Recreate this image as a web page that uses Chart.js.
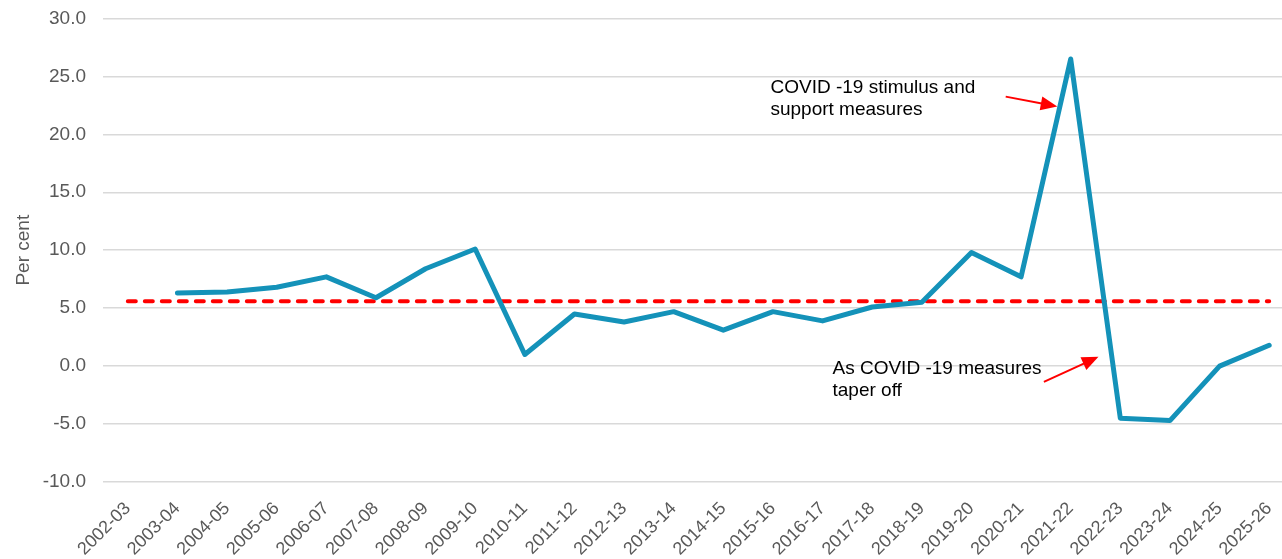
<!DOCTYPE html>
<html lang="en">
<head>
    <meta charset="UTF-8">
    <title>Annual growth, per cent</title>
    <style>
        body {
            margin: 0;
            padding: 0;
            background-color: #fff;
            overflow: hidden;
        }
        .chart-box {
            position: relative;
            width: 1294px;
            height: 569px;
            margin-top: -10px;
        }
    </style>
</head>
<body>

    <div class="chart-box">
        <canvas id="growthChart"></canvas>
    </div>

    <script src="https://cdn.jsdelivr.net/npm/chart.js"></script>

    <script>
        // Financial years on the x axis
        const years = [
            '2002-03', '2003-04', '2004-05', '2005-06', '2006-07', '2007-08',
            '2008-09', '2009-10', '2010-11', '2011-12', '2012-13', '2013-14',
            '2014-15', '2015-16', '2016-17', '2017-18', '2018-19', '2019-20',
            '2020-21', '2021-22', '2022-23', '2023-24', '2024-25', '2025-26'
        ];

        // Annual change, per cent (no figure for 2002-03)
        const growth = [
            null, 6.3, 6.4, 6.8, 7.7, 5.9,
            8.4, 10.1, 1.0, 4.5, 3.8, 4.7,
            3.1, 4.7, 3.9, 5.1, 5.5, 9.8,
            7.7, 26.5, -4.5, -4.7, 0.0, 1.8
        ];

        // Long-run average level, drawn as a dashed reference line
        const average = [
            5.6, 5.6, 5.6, 5.6, 5.6, 5.6,
            5.6, 5.6, 5.6, 5.6, 5.6, 5.6,
            5.6, 5.6, 5.6, 5.6, 5.6, 5.6,
            5.6, 5.6, 5.6, 5.6, 5.6, 5.6
        ];

        // Call-out notes: text lines, text anchor and arrow (tail -> tip) in data units
        const notes = [
            {
                lines: ['COVID -19 stimulus and', 'support measures'],
                at: [12.95, 24.0],
                tail: [17.69, 23.25],
                tip: [18.73, 22.4]
            },
            {
                lines: ['As COVID -19 measures', 'taper off'],
                at: [14.2, -0.25],
                tail: [18.46, -1.36],
                tip: [19.56, 0.8]
            }
        ];

        const FONT = "'Liberation Sans', Arial, sans-serif";

        const notesPlugin = {
            id: 'notes',
            afterDatasetsDraw(chart) {
                const { ctx, scales: { x, y } } = chart;
                ctx.save();
                notes.forEach(n => {
                    ctx.fillStyle = '#000';
                    ctx.font = '19px ' + FONT;
                    ctx.textAlign = 'left';
                    ctx.textBaseline = 'middle';
                    const tx = x.getPixelForValue(n.at[0]);
                    const ty = y.getPixelForValue(n.at[1]);
                    n.lines.forEach((t, i) => ctx.fillText(t, tx, ty + i * 22));

                    const x0 = x.getPixelForValue(n.tail[0]);
                    const y0 = y.getPixelForValue(n.tail[1]);
                    const x1 = x.getPixelForValue(n.tip[0]);
                    const y1 = y.getPixelForValue(n.tip[1]);
                    const ang = Math.atan2(y1 - y0, x1 - x0);
                    const head = 18;
                    ctx.strokeStyle = '#ff0000';
                    ctx.fillStyle = '#ff0000';
                    ctx.lineWidth = 2;
                    ctx.beginPath();
                    ctx.moveTo(x0, y0);
                    ctx.lineTo(x1 - head * 0.8 * Math.cos(ang), y1 - head * 0.8 * Math.sin(ang));
                    ctx.stroke();
                    ctx.beginPath();
                    ctx.moveTo(x1, y1);
                    ctx.lineTo(x1 - head * Math.cos(ang - 0.4), y1 - head * Math.sin(ang - 0.4));
                    ctx.lineTo(x1 - head * Math.cos(ang + 0.4), y1 - head * Math.sin(ang + 0.4));
                    ctx.closePath();
                    ctx.fill();
                });
                ctx.restore();
            }
        };

        const growthChart = new Chart(document.getElementById('growthChart'), {
            type: 'line',
            data: {
                labels: years,
                datasets: [
                    {
                        label: 'Annual change',
                        data: growth,
                        borderColor: '#1492b9',
                        borderWidth: 5,
                        pointRadius: 0,
                        tension: 0,
                        borderJoinStyle: 'round',
                        borderCapStyle: 'round',
                        fill: false,
                        order: 1
                    },
                    {
                        label: 'Average',
                        data: average,
                        borderColor: '#ff0000',
                        borderWidth: 4,
                        borderDash: [8, 9],
                        borderCapStyle: 'round',
                        pointRadius: 0,
                        fill: false,
                        order: 2
                    }
                ]
            },
            options: {
                responsive: true,
                maintainAspectRatio: false,
                animation: false,
                layout: { padding: { top: 1, left: 0, right: 0, bottom: 0 } },
                scales: {
                    x: {
                        offset: true,
                        grid: { display: false },
                        border: { display: false },
                        ticks: {
                            color: '#595959',
                            font: { family: FONT, size: 18 },
                            maxRotation: 45,
                            minRotation: 45,
                            padding: 8,
                            autoSkip: false
                        },
                        afterFit: (scale) => { scale.height = 77; }
                    },
                    y: {
                        min: -10,
                        max: 30,
                        ticks: {
                            stepSize: 5,
                            color: '#595959',
                            font: { family: FONT, size: 19 },
                            padding: 17,
                            callback: (v) => v.toFixed(1)
                        },
                        grid: { color: '#d9d9d9', lineWidth: 1.5, drawTicks: false },
                        border: { display: false },
                        title: {
                            display: true,
                            text: 'Per cent',
                            color: '#595959',
                            font: { family: FONT, size: 19 },
                            padding: { top: 12, bottom: 0 }
                        },
                        afterFit: (scale) => { scale.width = 103; }
                    }
                },
                plugins: {
                    legend: { display: false },
                    tooltip: { enabled: false }
                }
            },
            plugins: [notesPlugin]
        });
    </script>

</body>
</html>
